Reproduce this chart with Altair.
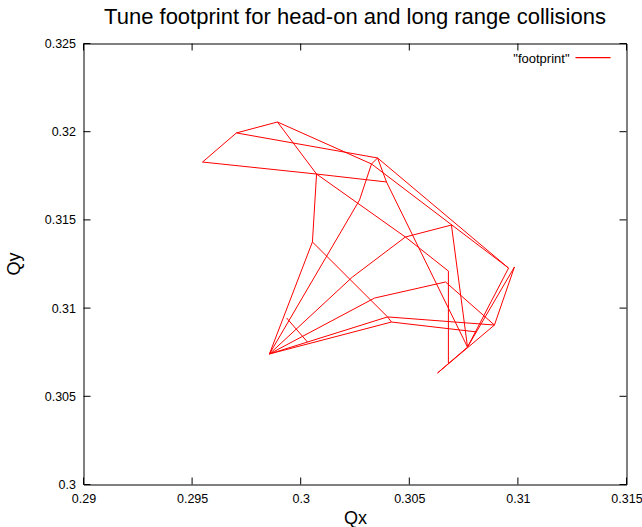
import altair as alt
import pandas as pd

# Axis ticks
x_ticks = [0.29, 0.295, 0.3, 0.305, 0.31, 0.315]
y_ticks = [0.3, 0.305, 0.31, 0.315, 0.32, 0.325]

# Footprint polylines: segment id, tune Qx, tune Qy
seg_id = [1, 1, 1, 1, 1, 1,
          2, 2,
          3, 3, 3,
          4, 4,
          5, 5, 5,
          6, 6, 6, 6, 6,
          7, 7, 7,
          8, 8, 8,
          9, 9, 9,
          10, 10, 10, 10, 10,
          11, 11, 11, 11,
          12, 12, 12, 12,
          13, 13,
          14, 14,
          15, 15, 15, 15, 15,
          16, 16]
qx = [0.29548, 0.29704, 0.29893, 0.30326, 0.30354, 0.30957,
      0.29704, 0.30354,
      0.30326, 0.30271, 0.29856,
      0.30326, 0.30957,
      0.29548, 0.30073, 0.30395,
      0.29893, 0.30073, 0.30482, 0.30680, 0.30680,
      0.30354, 0.30395, 0.30768,
      0.29856, 0.30054, 0.30073,
      0.30054, 0.30400, 0.30892,
      0.29856, 0.30238, 0.30482, 0.30694, 0.30768,
      0.29856, 0.30340, 0.30667, 0.30892,
      0.29856, 0.30400, 0.30418, 0.30809,
      0.29856, 0.30418,
      0.29935, 0.30031,
      0.30630, 0.30892, 0.30984, 0.30768, 0.30630,
      0.30768, 0.30957]
qy = [0.31828, 0.31993, 0.32055, 0.31817, 0.31851, 0.31227,
      0.31993, 0.31851,
      0.31817, 0.31613, 0.30740,
      0.31817, 0.31227,
      0.31828, 0.31760, 0.31715,
      0.32055, 0.31760, 0.31403, 0.31210, 0.30689,
      0.31851, 0.31715, 0.30779,
      0.30740, 0.31375, 0.31760,
      0.31375, 0.30950, 0.30904,
      0.30740, 0.31176, 0.31403, 0.31471, 0.30779,
      0.30740, 0.31057, 0.31148, 0.30904,
      0.30740, 0.30950, 0.30921, 0.30865,
      0.30740, 0.30921,
      0.30944, 0.30808,
      0.30632, 0.30904, 0.31233, 0.30779, 0.30632,
      0.30779, 0.31227]

W, H = 543, 441
FONT = "Liberation Sans"
RED = "#ff0000"

df = pd.DataFrame({"seg": seg_id, "qx": qx, "qy": qy})
df["idx"] = range(len(df))

xs = alt.Scale(domain=[0.29, 0.315], nice=False, zero=False)
ys = alt.Scale(domain=[0.3, 0.325], nice=False, zero=False)

lines = alt.Chart(df).mark_line(strokeWidth=1, clip=True).encode(
    x=alt.X("qx:Q", scale=xs, axis=alt.Axis(
        values=x_ticks, format="~g", ticks=False, domain=False, grid=False,
        labelFont=FONT, labelFontSize=12.5, labelColor="black", labelPadding=8,
        labelFlush=False,
        title="Qx", titleFont=FONT, titleFontSize=18, titleFontWeight="normal",
        titleColor="black", titleX=271.5, titleY=34, titleBaseline="middle")),
    y=alt.Y("qy:Q", scale=ys, axis=alt.Axis(
        values=y_ticks, format="~g", ticks=False, domain=False, grid=False,
        labelFont=FONT, labelFontSize=12.5, labelColor="black", labelPadding=8,
        labelFlush=False,
        title="Qy", titleFont=FONT, titleFontSize=18, titleFontWeight="normal",
        titleColor="black", titleX=-69, titleY=220, titleAngle=270,
        titleAlign="center", titleBaseline="middle")),
    color=alt.value(RED),
    detail="seg:N",
    order="idx:Q",
)

# Inward tick marks on all four sides
xt = pd.DataFrame({"t": x_ticks})
yt = pd.DataFrame({"t": y_ticks})
xb = alt.Chart(xt).mark_rule(strokeWidth=1).encode(
    x=alt.X("t:Q", scale=xs), y=alt.value(H), y2=alt.value(H - 7),
    color=alt.value("black"))
xtop = alt.Chart(xt).mark_rule(strokeWidth=1).encode(
    x=alt.X("t:Q", scale=xs), y=alt.value(0), y2=alt.value(7),
    color=alt.value("black"))
yl = alt.Chart(yt).mark_rule(strokeWidth=1).encode(
    y=alt.Y("t:Q", scale=ys), x=alt.value(0), x2=alt.value(7),
    color=alt.value("black"))
yr = alt.Chart(yt).mark_rule(strokeWidth=1).encode(
    y=alt.Y("t:Q", scale=ys), x=alt.value(W), x2=alt.value(W - 7),
    color=alt.value("black"))

# Key in the top-right corner
key_text = alt.Chart(pd.DataFrame({"k": ['"footprint"']})).mark_text(
    font=FONT, fontSize=13, align="right", baseline="middle"
).encode(x=alt.value(486), y=alt.value(15), text="k:N",
         color=alt.value("black"))
key_line = alt.Chart(pd.DataFrame({"k": ["footprint"]})).mark_rect(
    strokeWidth=0
).encode(x=alt.value(492), x2=alt.value(527), y=alt.value(13.5),
         y2=alt.value(14.7), fill=alt.value(RED))

chart = alt.layer(lines, xb, xtop, yl, yr, key_text, key_line).properties(
    width=W, height=H,
    background="white",
    title=alt.TitleParams(
        "Tune footprint for head-on and long range collisions",
        font=FONT, fontSize=22, fontWeight="normal", color="black",
        anchor="middle", offset=9),
    autosize=alt.AutoSizeParams(type="none"),
    padding={"left": 83.5, "top": 43.5, "right": 15, "bottom": 43},
).configure_view(stroke="#000000", strokeWidth=1)

chart.save("out.html", embed_options={"renderer": "svg", "actions": False})
